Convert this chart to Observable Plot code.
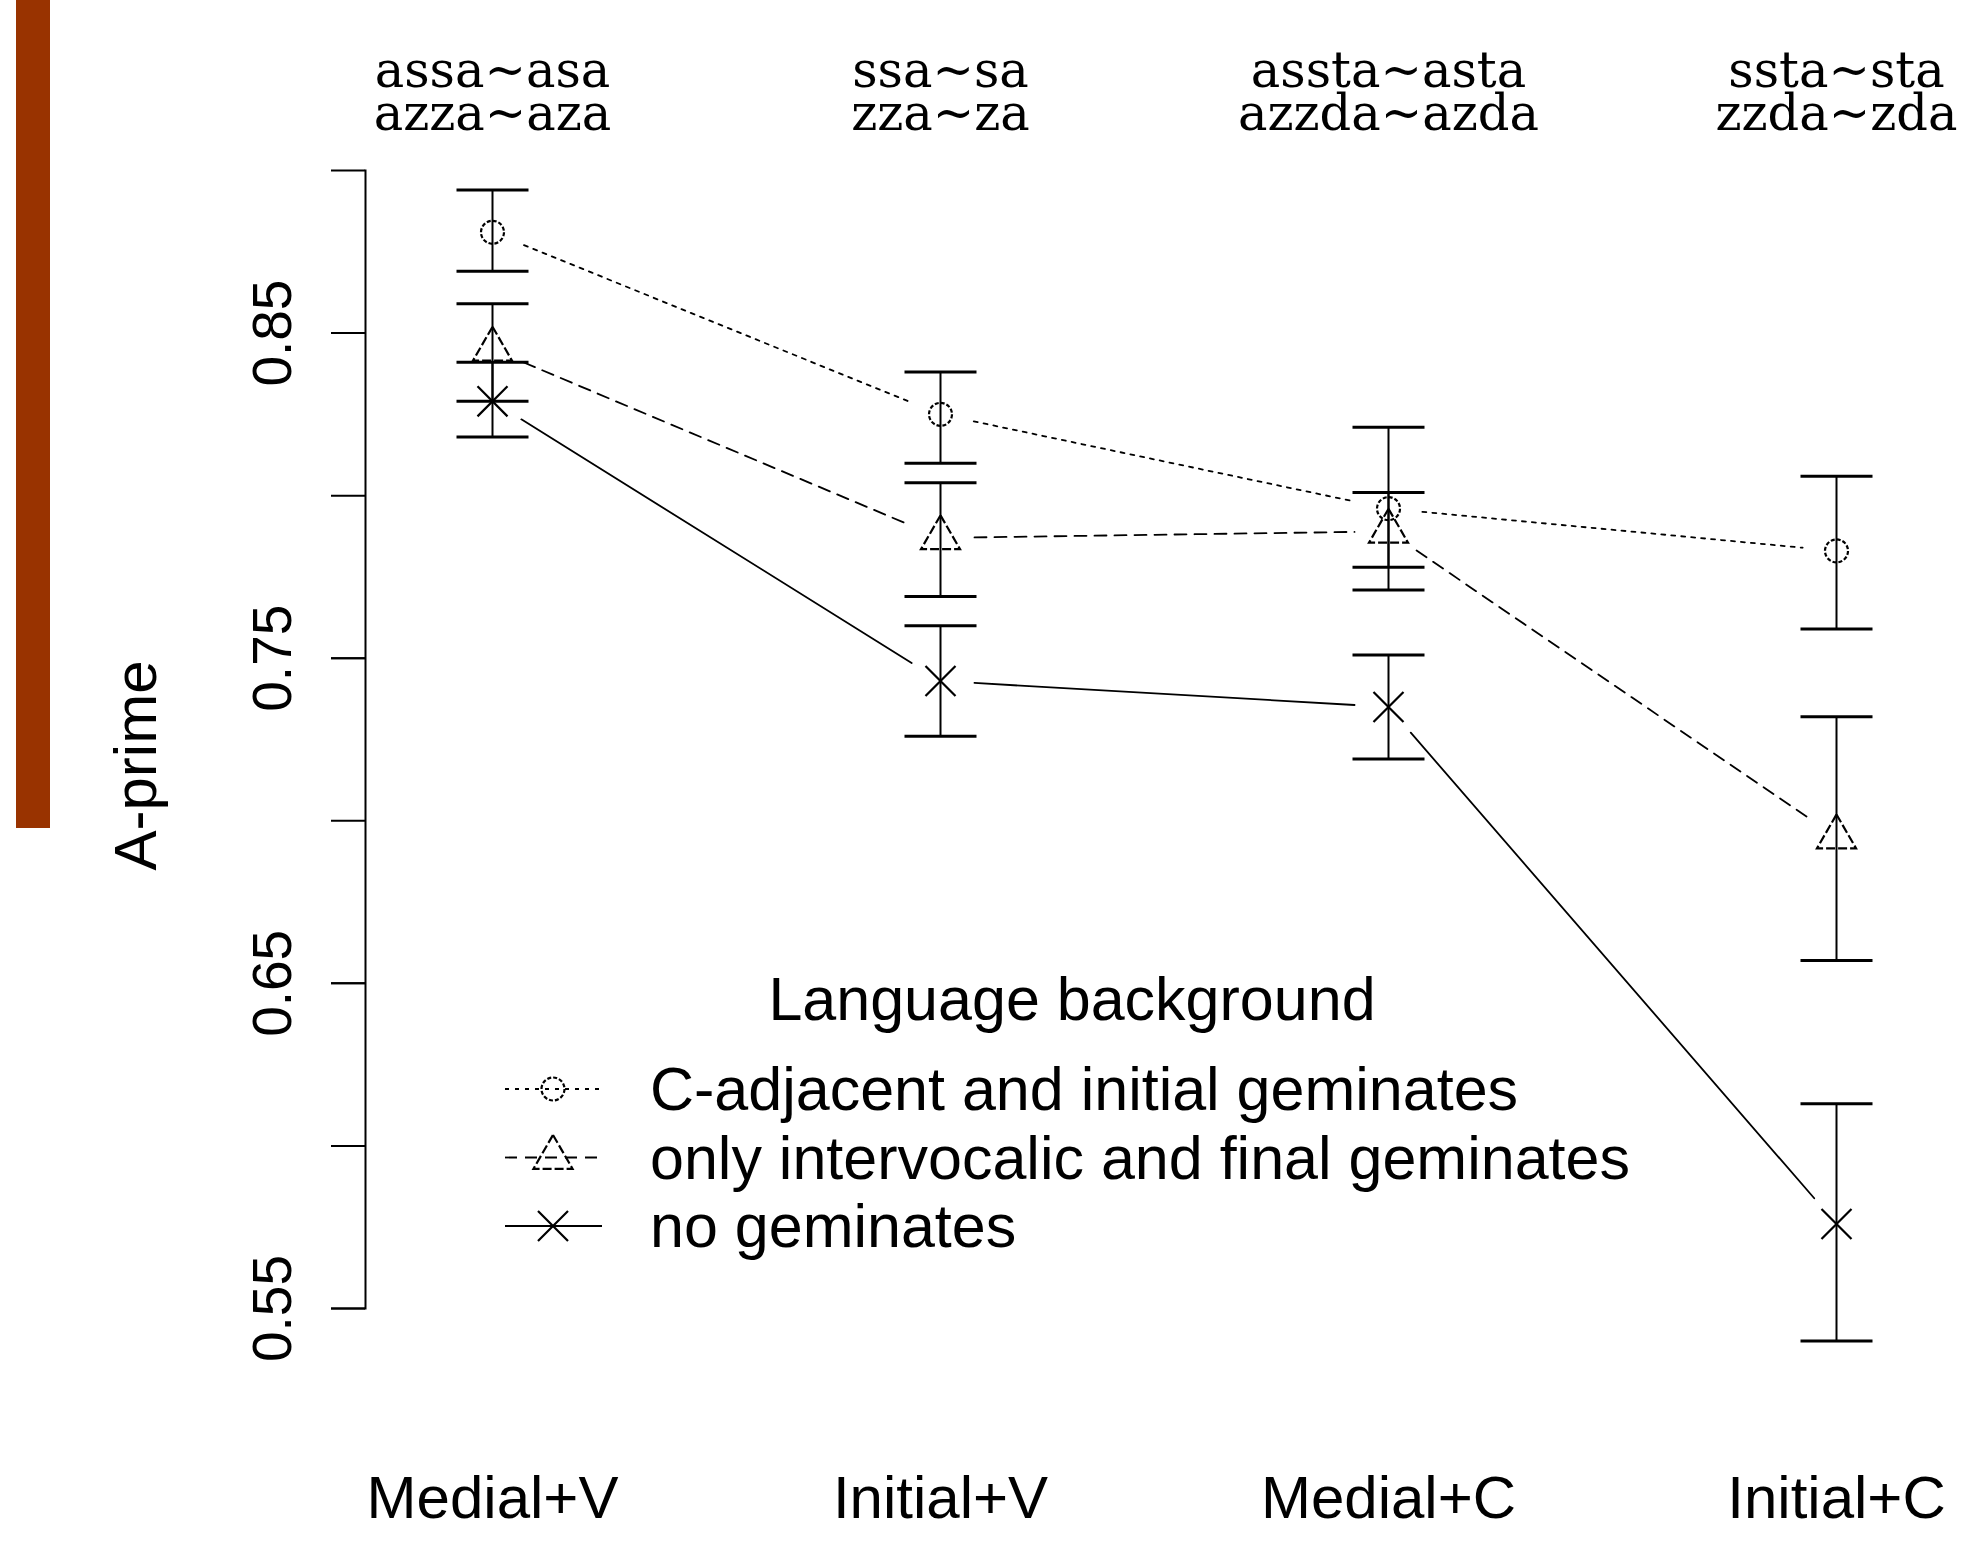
<!DOCTYPE html>
<html>
<head>
<meta charset="utf-8">
<script src="https://cdn.jsdelivr.net/npm/d3@7"></script>
<script src="https://cdn.jsdelivr.net/npm/@observablehq/plot@0.6"></script>
<style>
  html, body { margin: 0; padding: 0; background: #fff; }
  #wrap { position: relative; width: 1972px; height: 1541px; overflow: hidden; background: #fff; }
  #chart { position: absolute; left: 0; top: 0; }
  #legend { position: absolute; left: 0; top: 0; }
  #bar { position: absolute; left: 16px; top: 0; width: 34px; height: 828px; background: #993300; z-index: 5; }
</style>
</head>
<body>
<div id="wrap">
  <div id="chart"></div>
  <svg id="legend" width="1972" height="1541"></svg>
  <div id="bar"></div>
</div>
<script>
// ---------- data ----------
const conditions = ["Medial+V", "Initial+V", "Medial+C", "Initial+C"];
const stimulusPairs = ["assa~asa\nazza~aza", "ssa~sa\nzza~za", "assta~asta\nazzda~azda", "ssta~sta\nzzda~zda"];
const groups = ["C-adjacent and initial geminates", "only intervocalic and final geminates", "no geminates"];
const legendTitle = "Language background";
const yTitle = "A-prime";

const meanCAdjacent = [0.881, 0.825, 0.796, 0.783];
const lowCAdjacent  = [0.869, 0.810, 0.771, 0.759];
const highCAdjacent = [0.894, 0.838, 0.821, 0.806];

const meanIntervocalic = [0.845, 0.787, 0.789, 0.695];
const lowIntervocalic  = [0.829, 0.769, 0.778, 0.657];
const highIntervocalic = [0.859, 0.804, 0.801, 0.732];

const meanNone = [0.829, 0.743, 0.735, 0.576];
const lowNone  = [0.818, 0.726, 0.719, 0.540];
const highNone = [0.841, 0.760, 0.751, 0.613];

const yTickValues = [0.55, 0.60, 0.65, 0.70, 0.75, 0.80, 0.85, 0.90];
const yLabelValues = [0.55, 0.65, 0.75, 0.85];

// ---------- tables built from the arrays ----------
const series = [
  {group: groups[0], mean: meanCAdjacent, low: lowCAdjacent, high: highCAdjacent},
  {group: groups[1], mean: meanIntervocalic, low: lowIntervocalic, high: highIntervocalic},
  {group: groups[2], mean: meanNone, low: lowNone, high: highNone}
];
const rows = series.flatMap(s => conditions.map((c, i) => ({group: s.group, condition: c, mean: s.mean[i], low: s.low[i], high: s.high[i]})));
const segments = series.flatMap(s => conditions.slice(0, -1).map((c, i) => ({
  group: s.group, x1: c, y1: s.mean[i], x2: conditions[i + 1], y2: s.mean[i + 1]
})));

// ---------- styles ----------
const dashes = ["4,6", "12,8", null];
const symbolDashes = ["4,2", "9,3", null];
const symbols = ["circle", "triangle", "times"];
const radii = [11.5, 14.5, 13.7];
const capSymbol = {draw(ctx, size) { const w = Math.sqrt(size / Math.PI); ctx.moveTo(-w, 0); ctx.lineTo(w, 0); }};
const sans = "'Liberation Sans', Arial, Helvetica, sans-serif";

const chart = Plot.plot({
  width: 1972,
  height: 1541,
  marginLeft: 365,
  marginRight: 10,
  marginTop: 170,
  marginBottom: 233,
  style: {fontFamily: sans, fontSize: "60px", color: "black", background: "transparent", overflow: "visible"},
  x: {type: "point", domain: conditions, padding: 0.28, label: null},
  y: {domain: [0.55, 0.90], label: null},
  marks: [
    Plot.frame({anchor: "left", stroke: "black", strokeWidth: 2}),
    Plot.axisY(yTickValues, {tickSize: 34, tickFormat: () => "", strokeWidth: 2}),
    Plot.axisY(yLabelValues, {tickSize: 34, tickRotate: -90, tickPadding: 41, tickFormat: d => d.toFixed(2), fontSize: 55, strokeWidth: 2}),
    Plot.axisX({anchor: "bottom", tickSize: 0, tickPadding: 167, fontSize: 60}),
    Plot.axisX({anchor: "top", tickSize: 0, tickPadding: 41, tickFormat: d => stimulusPairs[conditions.indexOf(d)],
      fontSize: 49.5, fontFamily: "'DejaVu Serif', serif", lineHeight: 0.86}),
    Plot.text([yTitle], {frameAnchor: "left", textAnchor: "middle", dx: -229, dy: 26, rotate: -90, fontSize: 60}),
    ...groups.map((g, k) => Plot.arrow(segments.filter(s => s.group === g), {
      x1: "x1", y1: "y1", x2: "x2", y2: "y2", bend: 0, headLength: 0,
      insetStart: 34, insetEnd: 34, stroke: "black", strokeWidth: 1.8, strokeDasharray: dashes[k]
    })),
    Plot.ruleX(rows, {x: "condition", y1: "low", y2: "high", stroke: "black", strokeWidth: 2}),
    Plot.dot(rows, {x: "condition", y: "low", symbol: capSymbol, r: 36, fill: "none", stroke: "black", strokeWidth: 3}),
    Plot.dot(rows, {x: "condition", y: "high", symbol: capSymbol, r: 36, fill: "none", stroke: "black", strokeWidth: 3}),
    ...groups.map((g, k) => Plot.dot(rows.filter(d => d.group === g), {
      x: "condition", y: "mean", symbol: symbols[k], r: radii[k], fill: "none",
      stroke: "black", strokeWidth: 2.2, strokeDasharray: symbolDashes[k]
    }))
  ]
});
document.getElementById("chart").append(chart);

// ---------- legend ----------
const lg = d3.select("#legend").style("font-family", sans);
lg.append("text").attr("x", 1072).attr("y", 1020).attr("text-anchor", "middle")
  .attr("font-size", 61).attr("fill", "black").text(legendTitle);
const d3symbols = [d3.symbolCircle, d3.symbolTriangle, d3.symbolTimes];
groups.forEach((g, k) => {
  const y = 1089 + k * 68.5;
  const row = lg.append("g");
  row.append("line").attr("x1", 505).attr("x2", 602).attr("y1", y).attr("y2", y)
    .attr("stroke", "black").attr("stroke-width", 1.8).attr("stroke-dasharray", dashes[k]);
  row.append("path").attr("transform", `translate(553,${y})`)
    .attr("d", d3.symbol(d3symbols[k], Math.PI * radii[k] * radii[k])())
    .attr("fill", "none").attr("stroke", "black").attr("stroke-width", 2.2).attr("stroke-dasharray", symbolDashes[k]);
  row.append("text").attr("x", 650).attr("y", y + 21).attr("font-size", 61).attr("fill", "black").text(g);
});
</script>
</body>
</html>
